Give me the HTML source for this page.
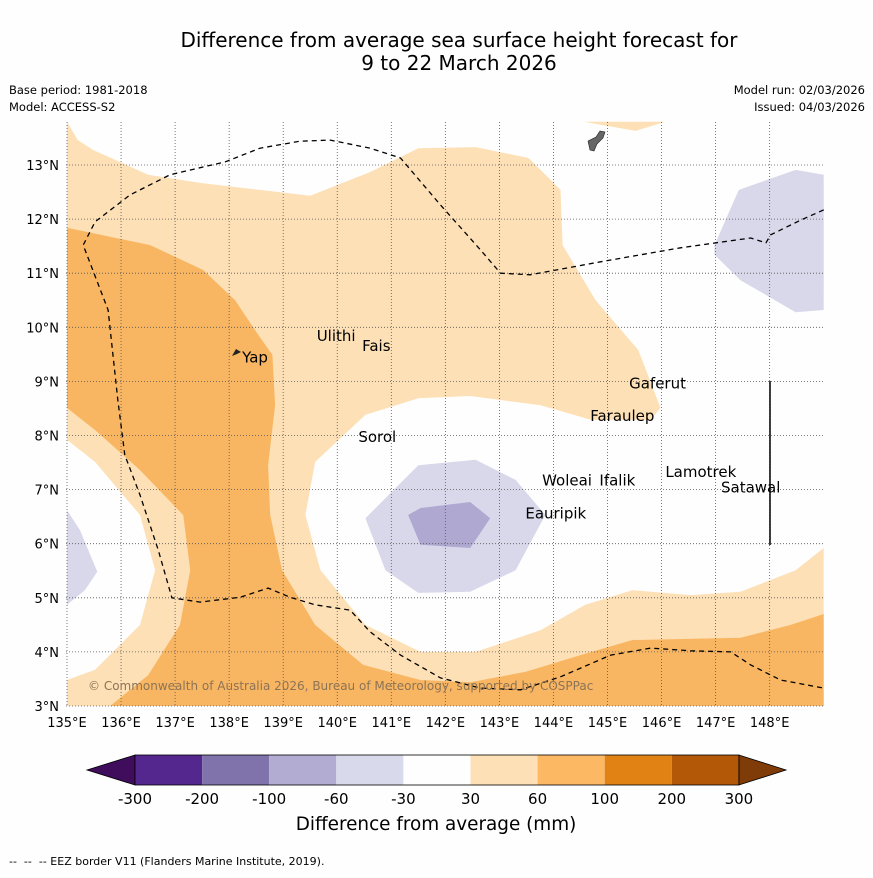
<!DOCTYPE html>
<html><head><meta charset="utf-8">
<style>
body{margin:0;background:#fff;}
svg text{font-family:"DejaVu Sans","Liberation Sans",sans-serif;}
</style></head>
<body>
<svg id="c" width="873" height="873" viewBox="0 0 873 873" xmlns="http://www.w3.org/2000/svg">
<rect width="873" height="873" fill="#fefefe"/>
<text x="459" y="47" font-size="20" text-anchor="middle">Difference from average sea surface height forecast for</text>
<text x="459" y="70" font-size="20" text-anchor="middle">9 to 22 March 2026</text>
<text x="9" y="94" font-size="11.5">Base period: 1981-2018</text>
<text x="9" y="111" font-size="11.5">Model: ACCESS-S2</text>
<text x="865" y="94" font-size="11.5" text-anchor="end">Model run: 02/03/2026</text>
<text x="865" y="111" font-size="11.5" text-anchor="end">Issued: 04/03/2026</text>
<g id="map"></g>
<g id="cbar"></g>
<text x="436" y="830" font-size="18.4" text-anchor="middle">Difference from average (mm)</text>
<text x="9" y="865" font-size="11">-- &#160;-- &#160;-- EEZ border V11 (Flanders Marine Institute, 2019).</text>
</svg>
<script>
const NS="http://www.w3.org/2000/svg";
const lonTicks=[135,136,137,138,139,140,141,142,143,144,145,146,147,148];
const latTicks=[3,4,5,6,7,8,9,10,11,12,13];
const lightLon=[135,135.2,135.48,136.5,137.46,138.57,139.5,140.61,141.5,142.56,143.54,144.13,144.17,144.78,145.57,145.98,145.8,144.69,143.76,142.46,141.5,140.52,139.59,139.41,139.69,140.52,141.54,142.56,143.76,144.59,145.46,146.54,147.46,148.48,149,149,135,135,135.52,136.35,136.63,136.35,135.52,135];
const lightLat=[13.8,13.46,13.28,12.82,12.67,12.54,12.43,12.87,13.31,13.33,13.13,12.54,11.52,10.5,9.58,8.51,8.29,8.29,8.56,8.73,8.69,8.38,7.51,6.53,5.51,4.5,4.0,4.0,4.4,4.87,5.14,5.05,5.11,5.51,5.92,3,3,3.48,3.67,4.5,5.51,6.53,7.51,7.92];
const light2Lon=[144.56,146.07,145.52];
const light2Lat=[13.8,13.8,13.63];
const orangeLon=[135,136.54,137.52,138.11,138.54,138.8,138.85,138.72,138.76,138.98,139.59,140.48,141.54,142.46,143.48,144.5,145.46,147.46,148.39,149,149,135.8,136.5,137.09,137.28,137.15,136.35,135.52,135];
const orangeLat=[11.84,11.52,11.06,10.5,9.86,9.49,8.56,7.45,6.53,5.51,4.5,3.76,3.48,3.44,3.63,3.94,4.22,4.26,4.5,4.7,3,3,3.57,4.5,5.51,6.53,7.36,8.1,8.51];
const lavLon=[140.52,141.5,142.56,143.3,143.85,143.3,142.46,141.5,140.89];
const lavLat=[6.47,7.45,7.55,7.18,6.53,5.51,5.11,5.09,5.51];
const darkLon=[141.31,141.54,142.46,142.83,142.46,141.54];
const darkLat=[6.53,6.66,6.77,6.47,5.92,5.98];
const lavRLon=[146.98,147.43,148.48,149,149,148.48,147.46,146.98];
const lavRLat=[11.52,12.54,12.91,12.82,10.32,10.28,10.87,11.34];
const lavLLon=[135,135.24,135.56,135.33,135];
const lavLLat=[6.62,6.25,5.48,5.14,4.87];
const eezLon=[149,148.57,148.02,147.93,147.65,146.35,144.87,143.57,143.02,142.65,141.91,141.17,140.61,139.87,139.31,138.57,137.93,136.91,136.17,135.52,135.3,135.76,135.94,136.07,136.35,136.69,136.94,137.46,138.2,138.72,139.13,139.59,140.24,140.61,141.17,141.91,142.65,143.39,144.13,145.06,145.8,146.54,147.28,147.65,148.2,149];
const eezLat=[12.17,11.98,11.71,11.56,11.65,11.47,11.21,10.97,11.0,11.43,12.26,13.13,13.31,13.46,13.44,13.31,13.06,12.82,12.45,11.95,11.52,10.32,8.66,7.64,6.9,5.88,5.0,4.92,5.01,5.18,5.01,4.87,4.77,4.37,3.94,3.52,3.33,3.3,3.54,3.94,4.07,4.02,4.0,3.76,3.48,3.33];
const islandNames=["Yap","Ulithi","Fais","Gaferut","Faraulep","Sorol","Woleai","Ifalik","Lamotrek","Satawal","Eauripik"];
const islandLon=[138.24,139.62,140.46,145.4,144.68,140.39,143.79,144.85,146.07,147.1,143.48];
const islandLat=[9.35,9.75,9.56,8.87,8.27,7.88,7.08,7.08,7.23,6.95,6.47];
const cbLabels=["-300","-200","-100","-60","-30","30","60","100","200","300"];
const cbColors=["#54278f","#8073ac","#b2abd2","#d8daeb","#fefefe","#fee0b6","#fdb863","#e08214","#b35806"];

const X=lon=>67+(lon-135)*54.05;
const Y=lat=>706-(lat-3)*54.1;
const map=document.getElementById('map');
function mk(tag,attrs,parent){const e=document.createElementNS(NS,tag);for(const k in attrs)e.setAttribute(k,attrs[k]);(parent||map).appendChild(e);return e;}
function poly(lons,lats,fill,name){
  const pts=lons.map((l,i)=>X(l).toFixed(1)+','+Y(lats[i]).toFixed(1)).join(' ');
  const p=mk('polygon',{points:pts,fill:fill});
  
  
}
poly(lightLon,lightLat,'#fde0b6','contour-30-60');
poly(light2Lon,light2Lat,'#fde0b6','contour-30-60-north');
poly(orangeLon,orangeLat,'#f9b662','contour-60-100');
poly(lavLon,lavLat,'#d8d8ea','contour-neg30-neg60');
poly(darkLon,darkLat,'#afa9d1','contour-neg60-neg100');
poly(lavRLon,lavRLat,'#d8d8ea','contour-neg30-neg60-east');
poly(lavLLon,lavLLat,'#d8d8ea','contour-neg30-neg60-west');
lonTicks.forEach(l=>{
  const g=mk('line',{x1:X(l),x2:X(l),y1:122,y2:706,stroke:'#555','stroke-width':0.8,'stroke-dasharray':'1,2'});
  
  
  const t=mk('text',{x:X(l),y:727,'font-size':13,'text-anchor':'middle'});
  t.textContent=l+'°E';
  
  
});
latTicks.forEach(l=>{
  const g=mk('line',{x1:66,x2:824,y1:Y(l),y2:Y(l),stroke:'#555','stroke-width':0.8,'stroke-dasharray':'1,2'});
  
  
  const t=mk('text',{x:59,y:Y(l)+5,'font-size':13,'text-anchor':'end'});
  t.textContent=l+'°N';
  
  
});
const ez=mk('polyline',{points:eezLon.map((l,i)=>X(l).toFixed(1)+','+Y(eezLat[i]).toFixed(1)).join(' '),fill:'none',stroke:'#000','stroke-width':1.3,'stroke-dasharray':'5,4'});


const vl=mk('line',{x1:770,x2:770,y1:381,y2:545,stroke:'#000','stroke-width':1.5});


const gu=mk('polygon',{points:'588,141 596,137 600,131 605,132 603,138 597,144 594,151 590,150',fill:'#666',stroke:'#222','stroke-width':0.6});


const yp=mk('polygon',{points:'232,356 236,349 241,352 237,354',fill:'#222'});


islandNames.forEach((n,i)=>{
  const t=mk('text',{x:X(islandLon[i]),y:Y(islandLat[i]),'font-size':15});
  t.textContent=n;
  
  
});
const cp=mk('text',{x:88,y:690,'font-size':12,fill:'#8b7355'});
cp.textContent='© Commonwealth of Australia 2026, Bureau of Meteorology, supported by COSPPac';


const cb=document.getElementById('cbar');
const cx0=135,cw=67.1,cy=755,ch=30;
const lt=mk('polygon',{points:`${cx0},${cy} ${cx0},${cy+ch} 87,${cy+ch/2}`,fill:'#3f0d5c',stroke:'#000','stroke-width':0.8},cb);


cbColors.forEach((c,i)=>{
  const r=mk('rect',{x:cx0+i*cw,y:cy,width:cw,height:ch,fill:c},cb);
  
  
});
const xe=cx0+cbColors.length*cw;
const rt=mk('polygon',{points:`${xe},${cy} ${xe},${cy+ch} 786,${cy+ch/2}`,fill:'#7f3b08',stroke:'#000','stroke-width':0.8},cb);


mk('rect',{x:cx0,y:cy,width:xe-cx0,height:ch,fill:'none',stroke:'#000','stroke-width':0.8},cb);
cbLabels.forEach((s,i)=>{
  const t=mk('text',{x:cx0+i*cw,y:804,'font-size':15,'text-anchor':'middle'},cb);
  t.textContent=s;
  
  
});
</script>
</body></html>
